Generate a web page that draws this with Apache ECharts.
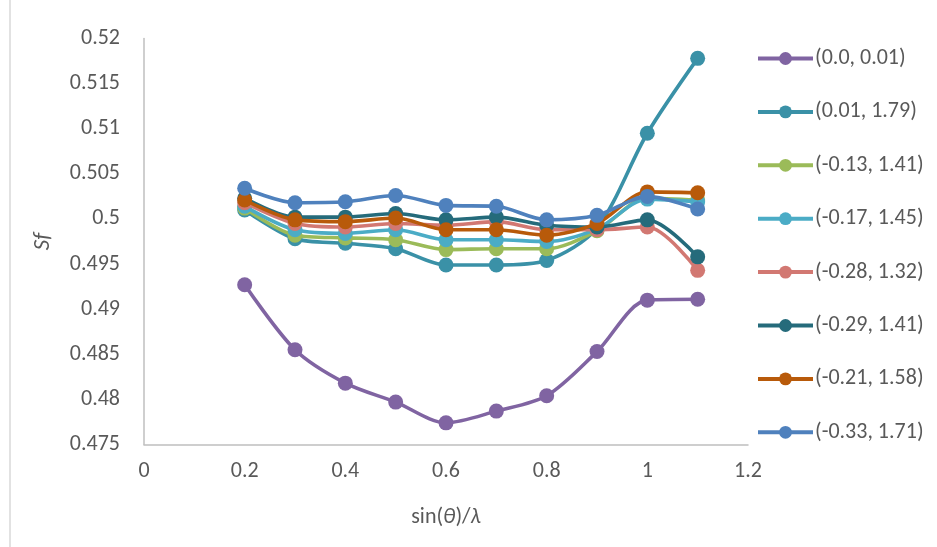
<!DOCTYPE html>
<html>
<head>
<meta charset="utf-8">
<script src="https://cdn.jsdelivr.net/npm/echarts@6/dist/echarts.min.js"></script>
<style>
  html, body { margin: 0; padding: 0; background: #fff; }
  #chart { width: 937px; height: 547px; }
</style>
</head>
<body>
<div id="chart"></div>
<script>
// sin(theta)/lambda sample points
const xValues = [0.2, 0.3, 0.4, 0.5, 0.6, 0.7, 0.8, 0.9, 1.0, 1.1];

// Sf values per (a, b) parameter pair
const sf_0_0_01     = [0.4927, 0.4855, 0.4818, 0.4797, 0.4774, 0.4787, 0.4804, 0.4853, 0.4910, 0.4911];
const sf_0_01_1_79  = [0.5010, 0.4978, 0.4973, 0.4967, 0.4949, 0.4949, 0.4954, 0.4990, 0.5095, 0.5178];
const sf_m013_1_41  = [0.5012, 0.4982, 0.4979, 0.4977, 0.4966, 0.4967, 0.4967, 0.4987, 0.5023, 0.5021];
const sf_m017_1_45  = [0.5014, 0.4988, 0.4984, 0.4988, 0.4977, 0.4977, 0.4975, 0.4989, 0.5022, 0.5019];
const sf_m028_1_32  = [0.5018, 0.4995, 0.4991, 0.4995, 0.4993, 0.4997, 0.4988, 0.4988, 0.4991, 0.4943];
const sf_m029_1_41  = [0.5023, 0.5002, 0.5002, 0.5006, 0.4999, 0.5002, 0.4993, 0.4991, 0.4999, 0.4958];
const sf_m021_1_58  = [0.5021, 0.4999, 0.4997, 0.5001, 0.4988, 0.4988, 0.4982, 0.4995, 0.5030, 0.5029];
const sf_m033_1_71  = [0.5034, 0.5018, 0.5019, 0.5026, 0.5015, 0.5014, 0.4999, 0.5004, 0.5025, 0.5011];

const seriesNames = ['(0.0, 0.01)', '(0.01, 1.79)', '(-0.13, 1.41)', '(-0.17, 1.45)',
                     '(-0.28, 1.32)', '(-0.29, 1.41)', '(-0.21, 1.58)', '(-0.33, 1.71)'];
const seriesValues = [sf_0_0_01, sf_0_01_1_79, sf_m013_1_41, sf_m017_1_45,
                      sf_m028_1_32, sf_m029_1_41, sf_m021_1_58, sf_m033_1_71];
const seriesColors = ['#8064A2', '#3A91A7', '#9BBB59', '#4BACC6',
                      '#D27872', '#256B7B', '#B85A0A', '#4F81BD'];

const yTicks = { min: 0.475, max: 0.52, interval: 0.005 };
const xTicks = { min: 0, max: 1.2, interval: 0.2 };

const textColor = '#595959';
const axisColor = '#BFBFBF';
const fontFamily = 'Calibri, Carlito, Lato, "Liberation Sans", sans-serif';
const labelSize = 22;

const chart = echarts.init(document.getElementById('chart'), null, { renderer: 'canvas' });

const series = seriesNames.map((name, i) => ({
  name: name,
  type: 'line',
  smooth: 0.3,
  data: xValues.map((x, j) => [x, seriesValues[i][j]]),
  symbol: 'circle',
  symbolSize: 15,
  showSymbol: true,
  lineStyle: { width: 3.6, color: seriesColors[i] },
  itemStyle: { color: seriesColors[i] },
  emphasis: { disabled: true },
  z: 2 + i
}));

chart.setOption({
  animation: false,
  backgroundColor: '#ffffff',
  textStyle: { fontFamily: fontFamily },
  grid: { left: 144, right: 189, top: 38.5, bottom: 102.5, containLabel: false },
  legend: {
    orient: 'vertical',
    left: 751,
    top: 41.5,
    itemWidth: 55,
    itemHeight: 16,
    itemGap: 29.4,
    data: seriesNames,
    lineStyle: { width: 4 },
    textStyle: { color: textColor, fontSize: labelSize, lineHeight: 24, fontFamily: fontFamily, padding: [0, 0, 0, -3] }
  },
  xAxis: {
    type: 'value',
    min: xTicks.min,
    max: xTicks.max,
    interval: xTicks.interval,
    splitLine: { show: false },
    axisTick: { show: false },
    axisLine: { show: true, onZero: false, lineStyle: { color: axisColor, width: 1.5 } },
    axisLabel: { color: textColor, fontSize: labelSize, margin: 16 },
    name: '{n|sin(}{i|θ}{n|)/}{i|λ}',
    nameLocation: 'middle',
    nameGap: 62,
    nameTextStyle: {
      rich: {
        n: { color: textColor, fontSize: labelSize, fontFamily: fontFamily },
        i: { color: textColor, fontSize: labelSize, fontFamily: fontFamily, fontStyle: 'italic' }
      }
    }
  },
  yAxis: {
    type: 'value',
    min: yTicks.min,
    max: yTicks.max,
    interval: yTicks.interval,
    splitLine: { show: false },
    axisTick: { show: false },
    axisLine: { show: true, lineStyle: { color: axisColor, width: 1.5 } },
    axisLabel: { color: textColor, fontSize: labelSize, margin: 24 },
    name: 'Sf',
    nameLocation: 'middle',
    nameGap: 89,
    nameRotate: 90,
    nameTextStyle: { color: textColor, fontSize: 23, fontStyle: 'italic', fontFamily: fontFamily }
  },
  graphic: [{
    type: 'line',
    shape: { x1: 10, y1: 0, x2: 10, y2: 547 },
    style: { stroke: '#D9D9D9', lineWidth: 1.5 },
    silent: true
  }],
  series: series
});
</script>
</body>
</html>
